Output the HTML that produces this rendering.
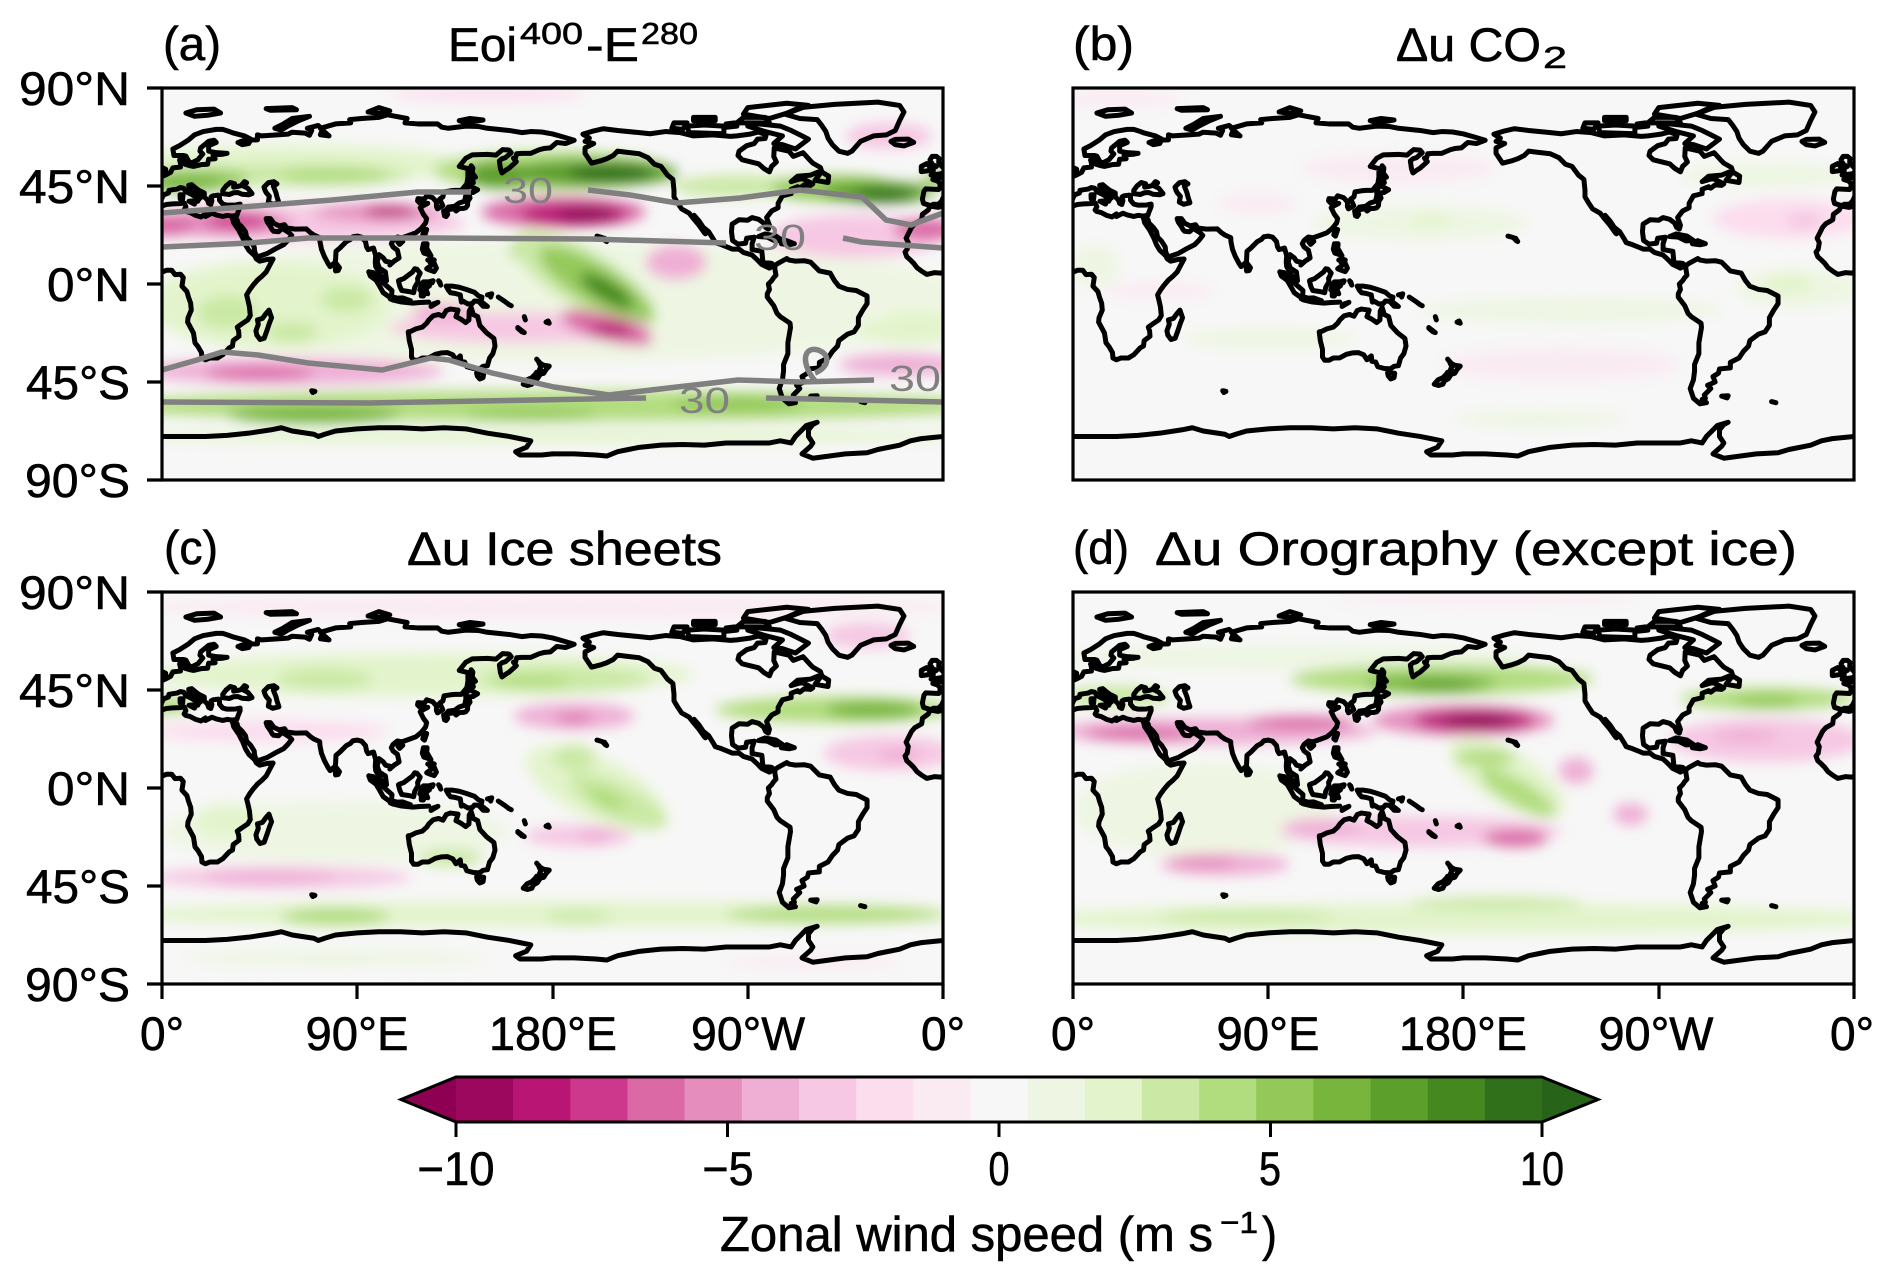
<!DOCTYPE html>
<html><head><meta charset="utf-8"><style>
html,body{margin:0;padding:0;background:#fff;}
svg{display:block;}
text{font-family:"Liberation Sans",Arial,sans-serif;fill:#000;}
.k text{stroke:#000;stroke-width:0.6px;}
</style></head><body>
<svg width="1892" height="1279" viewBox="0 0 1892 1279" xmlns="http://www.w3.org/2000/svg">
<defs>
<clipPath id="cp"><rect x="0" y="0" width="360" height="180"/></clipPath>
<filter id="bl" filterUnits="userSpaceOnUse" x="-60" y="-60" width="480" height="300"><feGaussianBlur stdDeviation="3"/></filter>
<g id="coast" transform="matrix(1,0,0,-1,0,90)" fill="none" stroke="#000" stroke-width="2.3" stroke-linejoin="round" stroke-linecap="round">
<polyline points="-165,60 -162,55.5 -158,56.5 -155,57.5 -152,59 -150,61 -146,60.5 -140,59.8 -136,58 -133,55 -130,54 -127,50 -124.5,48 -124,43 -124,40 -122.5,37.5 -120.5,34.5 -117,32.5 -115,30 -112.5,27 -110,23.5 -109.5,23 -111,25.5 -112.5,28.5 -114.7,31.5 -112.5,29 -110.5,26 -108,24 -105.5,20 -105,19 -102,18 -97,16 -94,16 -92,14.5 -88,13.3 -85.5,11 -83.6,9 -80,7.3 -78,8.5 -79,9.5 -83,10 -83.5,15 -88,15.8 -88,18.5 -87,21.5 -90.5,21 -91,18.7 -94.5,18.3 -97,20 -97.5,24 -97.2,27.5 -94,29.5 -90,29.3 -88,30.5 -85,29.7 -82.7,28 -81.8,26 -80.5,25.2 -80,27 -81.3,30.5 -79,33.5 -76,35 -76,37 -74,40.5 -70,41.5 -70,43.5 -67,44.7 -66,44 -64,45.5 -61,45.3 -60,46 -65,48.5 -70,47 -67,49.5 -61,50 -56,52 -56.5,53.5 -60,55.5 -61.5,57 -64.5,60.3 -69,58.6 -71,61 -77.8,62.5 -78,58.5 -76.8,56 -79,54 -80,51.5 -82.5,53 -85,55.2 -92.5,57 -94.5,59 -94,61 -90.5,63.5 -87,64.5 -85.5,66.5 -82,66.8 -81.5,68.5 -85,69.8 -89,68.8 -95,68 -98,67.8 -106,68.5 -115,68 -121,69.5 -128,70 -135,69 -141,69.6 -150,70.5 -156.5,71.3 -161,70.3 -166,68.8 -163,67 -165,65.5 -161,64.5 -165,62.5 -165,60"/>
<polyline points="-73,78 -66,81 -50,82.5 -30,83.5 -20,82 -18,79 -20,75 -22,70.5 -26,68.5 -32,68 -38,65.5 -42,61 -44,60 -48,61 -51,64 -53,67 -54,70 -56,73 -58,75.5 -66,76 -73,78"/>
<polyline points="-62,66.5 -68,62 -74,64 -78,64.5 -74,68 -82,70 -90,72.5 -85,73.5 -75,72.5 -70,70.5 -65,68 -62,66.5"/>
<polyline points="-80,76 -92,78 -90,81 -72,83 -62,82 -70,79 -80,76"/>
<polyline points="-117,69.5 -101,69 -101,72.5 -110,73 -118,72.5 -117,69.5"/>
<polyline points="-125,71.5 -120,71 -118,74 -124,74 -125,71.5"/>
<polyline points="-95,74 -80,74 -82,76.5 -92,76.5 -95,74"/>
<polyline points="-100,72 -95,72.5 -96,74 -100,73.5 -100,72"/>
<polyline points="-115,75 -105,75 -105,76.5 -115,76.5 -115,75"/>
<polyline points="-59,47.6 -53,46.6 -52.7,49.5 -56,51.5 -59,47.6"/>
<polyline points="-85,21.8 -82,23 -77,22 -74,20 -77.5,19.8 -81,21.5 -85,21.8"/>
<polyline points="-74.5,18.5 -72,19.9 -68.5,18.5 -71,18 -74.5,18.5"/>
<polyline points="-156,21 -155,19.5 -155.8,20 -157,21.3 -159.5,22"/>
<polyline points="-77.5,8.5 -76,9.5 -72,11.7 -71,11 -68,10.5 -64,10.7 -61,10 -57,6 -52,5 -50,1.5 -48,-1 -44,-2.5 -40,-3 -35,-5.5 -35,-9 -37,-12 -39,-15.5 -39,-19 -41,-22 -44,-23 -48,-26 -48.6,-28.5 -51,-31 -53,-34 -57,-36 -57,-38.5 -62,-39 -62.5,-41 -65,-42.5 -64,-45 -67.5,-46.5 -66,-48 -69,-51 -68.5,-52.5 -70,-53 -68,-54.5 -71,-55 -74,-52.5 -75.5,-48 -74,-44 -73.5,-40 -73.5,-37 -71.5,-32 -71.5,-27 -70.3,-20 -70.5,-18 -75,-15 -76.5,-13.5 -78,-10 -81,-6 -81,-4.5 -80,-2.5 -80.5,0 -79,1.5 -78,3 -77,4 -77.5,7 -77.5,8.5"/>
<polyline points="-61,-51.5 -58,-51.3 -58.5,-52.3 -61,-51.5"/>
<polyline points="-38,-54 -36,-54.5"/>
<polyline points="-5.6,36 -9,37 -9.5,39 -8.8,42.5 -8,43.7 -2,43.4 -1.5,44 -1.3,46 -2.5,47.3 -4.7,48 -1.5,48.7 1.5,50 4,51.3 5,53.3 8.5,53.7 8.5,55.5 8.1,57 10.5,57.7 10.5,55 12.5,54.4 14.5,54 18,54.8 21,55 21.5,57.3 24.5,57.5 23.5,59.3 28,59.6 30,60 25,60.3 21.5,61 21.5,63.5 25,65 24,66 21.5,65.5 17.8,62.5 17.5,61 18.8,59.7 16.5,57 14.5,56 12.8,55.5 11,58.7 10,59 5.5,59 5,62 8,63.5 12,66 15,68.5 19,70 25,71 28,71 31,70 33,69.3 38,68 41,66.5 40,64.5 37,64 35,65 38,66 44,66.2 44,68.5 46,68 53,68.5 58,68.8 60,69.7 66,69.3 68,68.3 69,70.5 67,71.5 72,72.8 74,71 73,68.5 77,68 73,71.5 80,73.5 87,74 86.5,75.5 92,76 100,76.5 104,77.7 113,76 112,74 118,73.5 127,73.5 129,72 132,71.5 140,72.5 146,72.3 150,71.5 155,71 160,70.5 166,69.5 170,70 175,69.8 180,68.9 185,67.5 190,66 186,64.5 182,65 179,62.5 176,62.2 174,61.7 170,60 166,60 163.5,59.8 163,58 162,57.8 163.3,56.2 161.8,54.8 160,53.2 158.5,52.3 156.7,51 156,53 155.5,56.5 156.7,57.5 158.3,58 161,60.3 160,61.5 157,61.7 154,59.2 150,59.5 143,59.3 140,57.7 137,54 141,53 141,49 140.5,46 138,43 135,43 133,42.8 130,42.3 129.5,40 128,39 129.4,36 127,34.5 126.5,35.5 126.5,37.7 124.8,39.6 122,40.5 121,39 118,39.2 117.8,38.2 119,37 122.5,37 120.5,36 119,35 120.5,32 122,30 121.5,28 119.5,25.5 117,23.5 113.5,22.2 110.5,21.2 108.5,21.6 106.5,20 105.7,18.5 106.5,17 108.5,15.5 109.3,12 107,10.5 105,8.7 105,10 103,10.5 102,12 100,13.5 99.2,10 100.3,7 101,6.8 103,5.5 103.5,1.5 101.5,2.7 100.3,5 98.5,8 98.3,10 98.5,13 97.5,16.5 95,15.8 94.3,17 93.8,19.5 92,21.5 90,22 88,21.7 86.9,20.5 85,19.5 82,16.5 80.2,15 80,11 79.8,10 77.5,8 76.5,9.5 74.8,12.7 73.5,16 72.8,19.5 72.7,21.3 70,22.5 68.5,23.5 66.5,25.3 61.5,25.2 57.5,25.7 56.5,27.2 54,26.7 51.5,27.9 50,30 48,30 48.5,28.5 50,26.3 50.7,25 51.5,24.2 53.7,24 56,26 56.4,24.9 58.5,23.6 59.8,22.3 58,20 56,18 52,16 48.5,14 45,12.8 43.5,12.6 42.7,15 42.5,17 40.8,19.7 39,21.5 38.5,24 37,26 35,28 34.6,29.5 34,27.9 32.6,29.9 32.3,31.2 34.5,31.5 35,33 36,35.5 36,36.7 34,36.3 32,36.2 30,36.2 28,36.7 26.5,38.5 26.5,40 26,40.8 23.5,40.5 22.6,40 23,38.2 22.5,36.5 21.5,37 21,38.5 19.5,40 19.5,41.8 17,43 15,44.5 13.7,45.6 12.3,45.3 12.5,44 14,42.5 16,41.5 18.5,40.2 17,39 16.5,38 15.7,38 16.5,39.5 15.5,40 13.5,41.2 11,42.4 10,44 8.5,44.3 7,43.6 5,43.3 3.2,43 3,41.8 0.8,41 0,39.5 -0.5,38.3 -2,36.7 -4.5,36.6 -5.6,36"/>
<polyline points="28,41.5 28,43 29.5,45 31.5,46.6 33.5,46 33,44.5 35,44.8 36.5,45.2 38,47 39,46.5 37.5,45 39.5,44 41.5,41.5 40,41 37,41.2 35,42 33,41.9 31,41.1 28,41.5"/>
<polyline points="47,44.5 49,46.5 51.5,47 53,46 51.3,45 52.5,42 53,40 53.9,37.3 51,36.6 49,37.6 49.5,40.3 48,42 47.5,43 47,44.5"/>
<polyline points="-5,50 1.5,51 1.7,52.7 0,53.5 -1.5,55 -2,56 -1.8,57.6 -3,58.6 -5,58.6 -6,57 -5.5,56 -4.8,54.8 -3,54 -4.5,53.3 -4.5,51.7 -5.5,50 -5,50"/>
<polyline points="-6,52 -6.2,54 -7.5,55.3 -10,54 -10,51.6 -7,52 -6,52"/>
<polyline points="-22,64 -24,65.5 -22,66.4 -16,66.5 -13.5,65 -18,63.4 -22,64"/>
<polyline points="12.4,38 15.6,38.2 15,36.7 12.4,38"/>
<polyline points="8.3,41 9.7,41 9.5,39 8.4,39 8.3,41"/>
<polyline points="52,71.5 56,73.5 60,76 68,77 63,75 58,72.5 55,70.7 52,71.5"/>
<polyline points="11,78.5 16,80 24,80.3 27,78.5 21,77.5 15,77 11,78.5"/>
<polyline points="95,79 100,81 105,79.5 100,78.3 95,79"/>
<polyline points="137,75 142,76 148,75.3 140,74 137,75"/>
<polyline points="48,80.5 60,81 62,80 50,79.8 48,80.5"/>
<polyline points="130.9,34 132,35.3 135,35.7 136,36.5 137,37.2 139.5,38 140,40.5 141.4,41.4 142,39.5 141,38 140.8,36 140,35 138.8,34.7 137,34.6 135.5,33.5 135,34.6 133,34.3 131,33.9 130.9,34"/>
<polyline points="129.8,33.5 131,33.9 131.7,32 131,31 130.2,31.3 129.8,33.5"/>
<polyline points="140,41.5 140,43 141.6,45.4 143,44.5 145.5,43.3 143.3,42 141,41.8 140,41.5"/>
<polyline points="142,46 143.5,46.5 143,49 144.5,49 143,51 143.3,53.3 142.5,54.3 142,51.5 142,46"/>
<polyline points="120.2,22.6 121,25 122,25 121,22 120.2,22.6"/>
<polyline points="108.7,19.2 110.5,20.1 111,19.6 109.5,18.2 108.7,19.2"/>
<polyline points="120,16 120.5,18.5 122.2,18.5 122,16.5 124,13 122,13.8 120.7,14.2 120,16"/>
<polyline points="122,7 124,8.5 125.5,9.5 126.5,7.3 125.5,5.7 124,6.2 122,7"/>
<polyline points="122.5,11 124,11.5 125.5,11 123.5,10"/>
<polyline points="109,1.5 109.6,-1 110.5,-3 114,-3.5 116,-4 116.5,-1.5 118,1 117.8,2.5 119,5 117.5,6.8 116.5,7 115.5,5.5 113.5,4 111.5,2.5 109.5,1.8 109,1.5"/>
<polyline points="95.3,5.6 97.5,5.2 100,2.2 103.7,-1 106,-3 105.8,-5.8 104.5,-5.8 102,-4 100.3,-1 98.7,1.7 96,3.7 95.3,5.6"/>
<polyline points="105.2,-6.8 106,-5.9 108.5,-6.5 111,-6.4 114.5,-7.7 114.5,-8.7 110,-8.2 106.5,-7.4 105.2,-6.8"/>
<polyline points="115.5,-8.8 119,-8.5 123,-8.3"/>
<polyline points="124,-10.3 127.2,-8.4 125,-9.2 124,-10.3"/>
<polyline points="119.5,-5.5 119.5,-3 118.8,-2.7 119.8,0 120.5,1 123,1 125,1.5 124.5,0.5 121,0.5 120.5,-1 123.3,-0.8 121.5,-2 122.5,-4.5 121,-4 120.5,-5.5 119.5,-5.5"/>
<polyline points="127.5,1.5 128.5,-0.5 128,1"/>
<polyline points="131,-1 134,-1 137,-1.5 140,-2.4 144,-3.8 146,-5.5 147.5,-6 147,-8 150,-10.3 148,-10.2 146,-8 144,-7.8 143,-9 141,-9.2 139,-8 138,-8.3 137.5,-5 135,-4.3 133,-4 132,-2.8 131,-1"/>
<polyline points="150,-5 152,-4.5 151.5,-6"/>
<polyline points="155,-6 158,-8 160,-9.5 161,-10"/>
<polyline points="167,-15 167.5,-16.5"/>
<polyline points="164,-20 167,-22.3 166,-22 164,-20.3"/>
<polyline points="177,-17.5 178.5,-18 178,-17 177,-17.5"/>
<polyline points="113.5,-22 114,-26 115,-30 115,-33.5 116,-35 118,-35 120,-34 123,-33.9 126,-32.3 129,-31.6 131.5,-31.5 134,-32.5 135.5,-34.8 137.5,-33 137.8,-35.5 139.5,-35.8 140.5,-38 143.5,-38.8 146.3,-39 148,-37.8 150,-37.5 151,-34 152.5,-32 153.5,-28.5 153,-25 151,-23.5 149.5,-22.3 146.5,-19 145.5,-15 143.5,-14 142.5,-10.8 141.6,-12.5 141.5,-16.5 140,-17.7 137.5,-16 135.5,-15 136.5,-12 133,-11.5 131,-12.2 129.5,-14.8 127.5,-14 125,-14.6 123,-16.5 122,-18 120,-19.8 117,-20.6 114.5,-21.8 113.5,-22"/>
<polyline points="145,-40.8 148.3,-41 148,-43 146.5,-43.6 145.3,-42.2 145,-40.8"/>
<polyline points="172.7,-34.5 174.5,-36.5 175.9,-37.3 178.5,-37.7 177,-39.3 176,-41 174.7,-41.3 175.2,-40 174,-39.3 174.6,-38 173.5,-35.5 172.7,-34.5"/>
<polyline points="172.7,-40.5 174.3,-41.5 173,-43.5 171.2,-44.5 170.5,-46 168.5,-46.6 166.5,-46 168.3,-44 170.5,-43 172,-41.5 172.7,-40.5"/>
<polyline points="49.3,-12 50.5,-15.5 49.5,-18 48.5,-21 47.1,-24.9 45.2,-25.5 43.7,-23.5 43.3,-21.5 44.4,-18.5 44,-16.5 46.3,-15.8 47.9,-13.6 49.3,-12"/>
<polyline points="80,9.8 81.8,7.5 81.2,6.2 80,6 79.8,8 80,9.8"/>
<polyline points="69,-49 70.5,-49.3 69.5,-49.8 69,-49"/>
<polyline points="32.6,29.9 32.3,31.2 30,31.5 28,31 25,31.7 23,32.5 20,31 20,32.2 18,30.8 15.5,31.5 13,32.8 11,33.3 10.2,34 11,35.5 10.2,37.2 8,36.9 5,36.8 2,36.5 -1,35.5 -2.2,35.2 -5.9,35.8 -6.8,34 -9.5,32 -9.8,29.5 -13,27.7 -14.5,26 -17,21 -16,19 -16.5,16 -17.5,14.7 -16.7,12.5 -15,11 -13.5,9.5 -12,7.5 -10,6 -7.5,4.4 -4,5.2 -1,5 2,6.3 4.5,6.3 6,4.3 8.5,4.5 9.8,3 9.5,1 9.2,-1 11.5,-3.5 12.2,-6 13.2,-8.8 13.5,-12 12,-15.5 11.8,-17.5 14.5,-22.5 15.2,-27 16.5,-28.6 18.2,-31.5 18.4,-34 20,-34.8 22,-34 25.5,-34 28,-32.5 31,-29.3 32.5,-28.5 32.8,-26 35.5,-24 35.3,-21.5 34.7,-19.8 36.5,-18.5 39.5,-16.5 40.7,-14.5 40.3,-10.5 39.5,-7 39,-5 40.5,-2.5 42,-0.5 44,1.8 46,3.5 48,5.5 49.6,8.5 51.2,11.5 48.5,11.3 45,10.5 43.5,11.5 42.7,13 40,15.5 38.5,18 37.3,21 36,23.5 35.5,24.5 34,26.7 33,28.2 32.6,29.9"/>
<polyline points="-180,-78 -170,-78 -160,-78.5 -155,-79 -150,-77 -145,-76 -140,-75 -130,-74 -120,-73.7 -110,-74 -100,-73 -90,-73 -80,-73 -75,-72 -70,-73 -68,-70 -66,-68 -63,-65 -58,-63.5 -60,-64.5 -62,-67 -62,-70 -60,-73 -61,-74.5 -65,-78 -60,-80 -45,-78 -35,-77.5 -30,-76 -20,-74 -15,-72 -10,-71 0,-70 10,-70 20,-70 30,-69.5 40,-68.5 50,-67 55,-66 60,-67.5 70,-69 72,-70 75,-69 80,-67.5 90,-66.5 100,-66 110,-66 120,-66.5 130,-66 140,-66.5 150,-68.5 160,-70 165,-71 170,-72 168,-75 163,-77 165,-78.5 175,-78.5 180,-78"/>
</g>
</defs>
<rect x="0" y="0" width="1892" height="1279" fill="#fff"/>

<!-- PANEL A -->
<g transform="translate(162,88) scale(2.16944,2.17778)">
<g clip-path="url(#cp)">
<rect x="0" y="0" width="360" height="180" fill="#f7f7f7"/>
<g filter="url(#bl)">
<ellipse cx="180" cy="98" rx="200" ry="28" fill="#eef6e3"/>
<ellipse cx="60" cy="35" rx="80" ry="9" fill="#e3f4cc"/>
<ellipse cx="60" cy="40" rx="55" ry="5" fill="#cbe9a5"/>
<ellipse cx="80" cy="40" rx="25" ry="4" fill="#b2dd7f"/>
<ellipse cx="15" cy="42" rx="25" ry="5" fill="#94c95a"/>
<ellipse cx="375" cy="42" rx="25" ry="5" fill="#94c95a"/>
<ellipse cx="10" cy="44" rx="18" ry="3.5" fill="#77b53c"/>
<ellipse cx="180" cy="38" rx="55" ry="9" fill="#b2dd7f"/>
<ellipse cx="155" cy="40" rx="15" ry="6" fill="#5d9f2b"/>
<ellipse cx="198" cy="39" rx="40" ry="6" fill="#5d9f2b"/>
<ellipse cx="207" cy="39" rx="20" ry="4" fill="#31701b"/>
<ellipse cx="265" cy="45" rx="30" ry="5" fill="#cbe9a5"/>
<ellipse cx="310" cy="46" rx="30" ry="6" fill="#94c95a"/>
<ellipse cx="330" cy="48" rx="25" ry="5" fill="#5d9f2b"/>
<ellipse cx="333" cy="49" rx="14" ry="3" fill="#31701b"/>
<ellipse cx="60" cy="62" rx="80" ry="8" fill="#f6c8e3"/>
<ellipse cx="30" cy="62" rx="30" ry="6" fill="#e58ebe"/>
<ellipse cx="35" cy="61" rx="15" ry="3.5" fill="#cd388c"/>
<ellipse cx="3" cy="63" rx="12" ry="5" fill="#da69a6"/>
<ellipse cx="100" cy="57" rx="30" ry="4" fill="#e58ebe"/>
<ellipse cx="105" cy="57" rx="12" ry="2.5" fill="#b91574"/>
<ellipse cx="185" cy="57" rx="38" ry="7" fill="#da69a6"/>
<ellipse cx="190" cy="58" rx="25" ry="5" fill="#b91574"/>
<ellipse cx="196" cy="58" rx="14" ry="3" fill="#8e0152"/>
<ellipse cx="320" cy="68" rx="40" ry="10" fill="#f6c8e3"/>
<ellipse cx="352" cy="65" rx="15" ry="5" fill="#da69a6"/>
<ellipse cx="237" cy="80" rx="14" ry="8" fill="#efafd5"/>
<ellipse cx="50" cy="100" rx="55" ry="20" fill="#e3f4cc"/>
<ellipse cx="30" cy="103" rx="14" ry="8" fill="#cbe9a5"/>
<ellipse cx="85" cy="97" rx="12" ry="6" fill="#cbe9a5"/>
<ellipse cx="60" cy="112" rx="12" ry="5" fill="#cbe9a5"/>
<ellipse cx="345" cy="110" rx="25" ry="8" fill="#e3f4cc"/>
<ellipse cx="300" cy="95" rx="45" ry="15" fill="#eef6e3"/>
<ellipse cx="178" cy="75" rx="18" ry="6" fill="#b2dd7f"/>
<ellipse cx="195" cy="88" rx="38" ry="13" fill="#cbe9a5" transform="rotate(31 195 88)"/>
<ellipse cx="200" cy="90" rx="30" ry="9" fill="#94c95a" transform="rotate(31 200 90)"/>
<ellipse cx="205" cy="93" rx="14" ry="4.5" fill="#45881f" transform="rotate(31 205 93)"/>
<ellipse cx="165" cy="110" rx="60" ry="7" fill="#f6c8e3"/>
<ellipse cx="130" cy="103" rx="15" ry="4" fill="#efafd5"/>
<ellipse cx="205" cy="110" rx="22" ry="6" fill="#da69a6" transform="rotate(15 205 110)"/>
<ellipse cx="207" cy="111" rx="10" ry="3" fill="#b91574"/>
<ellipse cx="60" cy="130" rx="70" ry="6" fill="#efafd5"/>
<ellipse cx="45" cy="131" rx="25" ry="3" fill="#da69a6"/>
<ellipse cx="340" cy="127" rx="28" ry="5" fill="#efafd5"/>
<ellipse cx="180" cy="146" rx="210" ry="7" fill="#b2dd7f"/>
<ellipse cx="70" cy="150" rx="40" ry="4" fill="#77b53c"/>
<ellipse cx="265" cy="145" rx="30" ry="4" fill="#94c95a"/>
<ellipse cx="170" cy="150" rx="30" ry="3" fill="#94c95a"/>
<ellipse cx="180" cy="160" rx="210" ry="3" fill="#e3f4cc"/>
<ellipse cx="335" cy="22" rx="20" ry="6" fill="#f6c8e3"/>
<ellipse cx="150" cy="3" rx="45" ry="3" fill="#fcddee"/>
</g>
<use href="#coast"/><use href="#coast" x="360"/>
</g>
</g>
<!-- gray contours panel a -->
<g fill="none" stroke="#808080" stroke-width="5.5" stroke-linejoin="round" stroke-linecap="butt">
<polyline points="162,213 230,208 332,200 418,192 471,192"/>
<polyline points="588,190 630,195 677,203 740,198 800,190 862,197 886,220 911,225 943,213"/>
<polyline points="162,247 250,243 308,238 431,238 591,239 726,243"/>
<polyline points="843,238 862,242 943,248"/>
<polyline points="162,370 197,360 222,352 258,355 308,363 382,370 431,358 449,360 492,373 554,387 609,395 677,387 738,380 800,382 874,380"/>
<path d="M815,381 C800,362 804,346 818,350 C832,355 828,368 815,373"/>
<polyline points="162,402 369,403 646,398"/>
<polyline points="766,398 943,402"/>
</g>
<g font-size="36">
<text x="503" y="203" textLength="50" lengthAdjust="spacingAndGlyphs" style="fill:#808080">30</text>
<text x="754" y="250" textLength="52" lengthAdjust="spacingAndGlyphs" style="fill:#808080">30</text>
<text x="889" y="391" textLength="52" lengthAdjust="spacingAndGlyphs" style="fill:#808080">30</text>
<text x="679" y="413" textLength="51" lengthAdjust="spacingAndGlyphs" style="fill:#808080">30</text>
</g>

<!-- PANEL B -->
<g transform="translate(1073,88) scale(2.16944,2.17778)">
<g clip-path="url(#cp)">
<rect x="0" y="0" width="360" height="180" fill="#f7f7f7"/>
<g filter="url(#bl)">
<ellipse cx="20" cy="5" rx="30" ry="4" fill="#faebf3"/>
<ellipse cx="150" cy="37" rx="45" ry="7" fill="#faebf3"/>
<ellipse cx="85" cy="53" rx="18" ry="5" fill="#faebf3"/>
<ellipse cx="160" cy="62" rx="50" ry="8" fill="#eef6e3"/>
<ellipse cx="165" cy="61" rx="10" ry="3" fill="#e3f4cc"/>
<ellipse cx="320" cy="40" rx="40" ry="6" fill="#eef6e3"/>
<ellipse cx="330" cy="60" rx="35" ry="9" fill="#fcddee"/>
<ellipse cx="337" cy="61" rx="8" ry="4" fill="#f6c8e3"/>
<ellipse cx="335" cy="92" rx="30" ry="9" fill="#eef6e3"/>
<ellipse cx="330" cy="90" rx="12" ry="5" fill="#e3f4cc"/>
<ellipse cx="230" cy="102" rx="70" ry="6" fill="#eef6e3"/>
<ellipse cx="225" cy="127" rx="55" ry="8" fill="#faebf3"/>
<ellipse cx="40" cy="93" rx="25" ry="4" fill="#faebf3"/>
<ellipse cx="10" cy="82" rx="12" ry="10" fill="#eef6e3"/>
<ellipse cx="215" cy="152" rx="40" ry="4" fill="#eef6e3"/>
<ellipse cx="90" cy="115" rx="40" ry="5" fill="#eef6e3"/>
</g>
<use href="#coast"/><use href="#coast" x="360"/>
</g>
</g>

<!-- PANEL C -->
<g transform="translate(162,592) scale(2.16944,2.17778)">
<g clip-path="url(#cp)">
<rect x="0" y="0" width="360" height="180" fill="#f7f7f7"/>
<g filter="url(#bl)">
<ellipse cx="180" cy="7" rx="190" ry="6" fill="#faebf3"/>
<ellipse cx="325" cy="20" rx="20" ry="6" fill="#f6c8e3"/>
<ellipse cx="120" cy="38" rx="125" ry="10" fill="#e3f4cc"/>
<ellipse cx="75" cy="40" rx="22" ry="5" fill="#cbe9a5"/>
<ellipse cx="185" cy="40" rx="40" ry="6" fill="#cbe9a5"/>
<ellipse cx="170" cy="41" rx="18" ry="3" fill="#b2dd7f"/>
<ellipse cx="310" cy="54" rx="55" ry="6" fill="#b2dd7f"/>
<ellipse cx="328" cy="54" rx="22" ry="4" fill="#77b53c"/>
<ellipse cx="2" cy="52" rx="12" ry="4" fill="#b2dd7f"/>
<ellipse cx="190" cy="57" rx="28" ry="6" fill="#efafd5"/>
<ellipse cx="190" cy="58" rx="9" ry="2" fill="#da69a6"/>
<ellipse cx="50" cy="64" rx="55" ry="5" fill="#fcddee"/>
<ellipse cx="335" cy="74" rx="30" ry="8" fill="#f6c8e3"/>
<ellipse cx="340" cy="75" rx="10" ry="3" fill="#efafd5"/>
<ellipse cx="80" cy="110" rx="80" ry="14" fill="#eef6e3"/>
<ellipse cx="30" cy="105" rx="15" ry="8" fill="#e3f4cc"/>
<ellipse cx="200" cy="90" rx="35" ry="14" fill="#e3f4cc" transform="rotate(25 200 90)"/>
<ellipse cx="190" cy="76" rx="10" ry="6" fill="#cbe9a5"/>
<ellipse cx="210" cy="96" rx="25" ry="8" fill="#cbe9a5" transform="rotate(25 210 96)"/>
<ellipse cx="205" cy="95" rx="10" ry="4" fill="#b2dd7f" transform="rotate(25 205 95)"/>
<ellipse cx="192" cy="112" rx="25" ry="5" fill="#f6c8e3"/>
<ellipse cx="200" cy="112" rx="8" ry="3" fill="#efafd5"/>
<ellipse cx="133" cy="122" rx="15" ry="4" fill="#cbe9a5"/>
<ellipse cx="55" cy="131" rx="60" ry="5" fill="#f6c8e3"/>
<ellipse cx="50" cy="131" rx="30" ry="3" fill="#efafd5"/>
<ellipse cx="180" cy="148" rx="200" ry="6" fill="#e3f4cc"/>
<ellipse cx="80" cy="149" rx="25" ry="4" fill="#b2dd7f"/>
<ellipse cx="192" cy="149" rx="15" ry="3" fill="#cbe9a5"/>
<ellipse cx="310" cy="148" rx="50" ry="4" fill="#b2dd7f"/>
<ellipse cx="80" cy="168" rx="70" ry="4" fill="#eef6e3"/>
<ellipse cx="300" cy="170" rx="40" ry="3" fill="#faebf3"/>
</g>
<use href="#coast"/><use href="#coast" x="360"/>
</g>
</g>

<!-- PANEL D -->
<g transform="translate(1073,592) scale(2.16944,2.17778)">
<g clip-path="url(#cp)">
<rect x="0" y="0" width="360" height="180" fill="#f7f7f7"/>
<g filter="url(#bl)">
<ellipse cx="190" cy="3" rx="70" ry="3" fill="#faebf3"/>
<ellipse cx="100" cy="30" rx="110" ry="6" fill="#eef6e3"/>
<ellipse cx="170" cy="40" rx="70" ry="7" fill="#b2dd7f"/>
<ellipse cx="165" cy="42" rx="30" ry="4" fill="#77b53c"/>
<ellipse cx="170" cy="43" rx="15" ry="2.5" fill="#5d9f2b"/>
<ellipse cx="320" cy="49" rx="40" ry="5" fill="#b2dd7f"/>
<ellipse cx="320" cy="50" rx="15" ry="3" fill="#94c95a"/>
<ellipse cx="20" cy="48" rx="25" ry="5" fill="#cbe9a5"/>
<ellipse cx="65" cy="64" rx="75" ry="6" fill="#efafd5"/>
<ellipse cx="30" cy="65" rx="25" ry="3" fill="#da69a6"/>
<ellipse cx="105" cy="60" rx="25" ry="3" fill="#da69a6"/>
<ellipse cx="180" cy="59" rx="42" ry="7" fill="#e58ebe"/>
<ellipse cx="185" cy="59" rx="28" ry="5" fill="#b91574"/>
<ellipse cx="187" cy="59" rx="16" ry="3" fill="#8e0152"/>
<ellipse cx="320" cy="68" rx="45" ry="10" fill="#f6c8e3"/>
<ellipse cx="310" cy="66" rx="15" ry="3" fill="#efafd5"/>
<ellipse cx="232" cy="82" rx="8" ry="6" fill="#efafd5"/>
<ellipse cx="60" cy="100" rx="60" ry="22" fill="#eef6e3"/>
<ellipse cx="200" cy="85" rx="30" ry="12" fill="#e3f4cc" transform="rotate(30 200 85)"/>
<ellipse cx="190" cy="76" rx="14" ry="4" fill="#b2dd7f"/>
<ellipse cx="205" cy="92" rx="20" ry="6" fill="#b2dd7f" transform="rotate(30 205 92)"/>
<ellipse cx="160" cy="110" rx="65" ry="7" fill="#f6c8e3"/>
<ellipse cx="204" cy="113" rx="15" ry="4" fill="#da69a6"/>
<ellipse cx="115" cy="108" rx="18" ry="4" fill="#efafd5"/>
<ellipse cx="257" cy="102" rx="8" ry="5" fill="#efafd5"/>
<ellipse cx="70" cy="125" rx="30" ry="5" fill="#efafd5"/>
<ellipse cx="60" cy="124" rx="15" ry="3" fill="#e58ebe"/>
<ellipse cx="180" cy="150" rx="200" ry="7" fill="#e3f4cc"/>
<ellipse cx="80" cy="149" rx="40" ry="3" fill="#cbe9a5"/>
<ellipse cx="195" cy="143" rx="40" ry="3" fill="#cbe9a5"/>
</g>
<use href="#coast"/><use href="#coast" x="360"/>
</g>
</g>

<!-- frames and ticks -->
<g fill="none" stroke="#000" stroke-width="3.2">
<rect x="162" y="88" width="781" height="392"/>
<rect x="1073" y="88" width="781" height="392"/>
<rect x="162" y="592" width="781" height="392"/>
<rect x="1073" y="592" width="781" height="392"/>
<path d="M147,88H162M147,186H162M147,284H162M147,382H162M147,480H162"/>
<path d="M147,592H162M147,690H162M147,788H162M147,886H162M147,984H162"/>
<path d="M162,984V999M357,984V999M553,984V999M748,984V999M943,984V999"/>
<path d="M1073,984V999M1268,984V999M1463,984V999M1659,984V999M1854,984V999"/>
</g>

<g class="k">
<!-- y labels -->
<g font-size="47" text-anchor="end">
<text x="130" y="105" textLength="111" lengthAdjust="spacingAndGlyphs">90°N</text>
<text x="130" y="203" textLength="111" lengthAdjust="spacingAndGlyphs">45°N</text>
<text x="130" y="301" textLength="83" lengthAdjust="spacingAndGlyphs">0°N</text>
<text x="130" y="399" textLength="104" lengthAdjust="spacingAndGlyphs">45°S</text>
<text x="130" y="497" textLength="105" lengthAdjust="spacingAndGlyphs">90°S</text>
<text x="130" y="609" textLength="111" lengthAdjust="spacingAndGlyphs">90°N</text>
<text x="130" y="707" textLength="111" lengthAdjust="spacingAndGlyphs">45°N</text>
<text x="130" y="805" textLength="83" lengthAdjust="spacingAndGlyphs">0°N</text>
<text x="130" y="903" textLength="104" lengthAdjust="spacingAndGlyphs">45°S</text>
<text x="130" y="1001" textLength="105" lengthAdjust="spacingAndGlyphs">90°S</text>
</g>
<!-- x labels -->
<g font-size="47" text-anchor="middle">
<text x="162" y="1050" textLength="44" lengthAdjust="spacingAndGlyphs">0°</text>
<text x="357" y="1050" textLength="103" lengthAdjust="spacingAndGlyphs">90°E</text>
<text x="553" y="1050" textLength="128" lengthAdjust="spacingAndGlyphs">180°E</text>
<text x="748" y="1050" textLength="114" lengthAdjust="spacingAndGlyphs">90°W</text>
<text x="943" y="1050" textLength="44" lengthAdjust="spacingAndGlyphs">0°</text>
<text x="1073" y="1050" textLength="44" lengthAdjust="spacingAndGlyphs">0°</text>
<text x="1268" y="1050" textLength="103" lengthAdjust="spacingAndGlyphs">90°E</text>
<text x="1463" y="1050" textLength="128" lengthAdjust="spacingAndGlyphs">180°E</text>
<text x="1656" y="1050" textLength="115" lengthAdjust="spacingAndGlyphs">90°W</text>
<text x="1852" y="1050" textLength="44" lengthAdjust="spacingAndGlyphs">0°</text>
</g>

<!-- titles -->
<g font-size="47">
<text x="163" y="60" textLength="58" lengthAdjust="spacingAndGlyphs">(a)</text>
<text x="448" y="61" textLength="69" lengthAdjust="spacingAndGlyphs">Eoi</text>
<text x="520" y="44" font-size="31" textLength="63" lengthAdjust="spacingAndGlyphs">400</text>
<text x="586" y="61" textLength="53" lengthAdjust="spacingAndGlyphs">-E</text>
<text x="641" y="44" font-size="31" textLength="57" lengthAdjust="spacingAndGlyphs">280</text>
<text x="1073" y="60" textLength="61" lengthAdjust="spacingAndGlyphs">(b)</text>
<text x="1396" y="61" textLength="145" lengthAdjust="spacingAndGlyphs">Δu CO</text>
<text x="1543" y="68" font-size="31" textLength="24" lengthAdjust="spacingAndGlyphs">2</text>
<text x="164" y="564" textLength="54" lengthAdjust="spacingAndGlyphs">(c)</text>
<text x="407" y="565" textLength="315" lengthAdjust="spacingAndGlyphs">Δu Ice sheets</text>
<text x="1073" y="564" textLength="56" lengthAdjust="spacingAndGlyphs">(d)</text>
<text x="1155" y="565" textLength="642" lengthAdjust="spacingAndGlyphs">Δu Orography (except ice)</text>
</g>
</g>

<!-- colorbar -->
<g>
<polygon points="456,1077 401,1099.5 456,1122" fill="#8e0152"/>
<polygon points="1542,1077 1598,1099.5 1542,1122" fill="#276419"/>
<rect x="456" y="1077" width="58" height="45" fill="#9c085d"/>
<rect x="513.2" y="1077" width="58" height="45" fill="#b91574"/>
<rect x="570.3" y="1077" width="58" height="45" fill="#cd388c"/>
<rect x="627.5" y="1077" width="58" height="45" fill="#da69a6"/>
<rect x="684.6" y="1077" width="58" height="45" fill="#e58ebe"/>
<rect x="741.8" y="1077" width="58" height="45" fill="#efafd5"/>
<rect x="799" y="1077" width="58" height="45" fill="#f6c8e3"/>
<rect x="856.1" y="1077" width="58" height="45" fill="#fcddee"/>
<rect x="913.3" y="1077" width="58" height="45" fill="#faebf3"/>
<rect x="970.4" y="1077" width="58" height="45" fill="#f7f7f7"/>
<rect x="1027.6" y="1077" width="58" height="45" fill="#eef6e3"/>
<rect x="1084.8" y="1077" width="58" height="45" fill="#e3f4cc"/>
<rect x="1141.9" y="1077" width="58" height="45" fill="#cbe9a5"/>
<rect x="1199.1" y="1077" width="58" height="45" fill="#b2dd7f"/>
<rect x="1256.2" y="1077" width="58" height="45" fill="#94c95a"/>
<rect x="1313.4" y="1077" width="58" height="45" fill="#77b53c"/>
<rect x="1370.6" y="1077" width="58" height="45" fill="#5d9f2b"/>
<rect x="1427.7" y="1077" width="58" height="45" fill="#45881f"/>
<rect x="1484.9" y="1077" width="57.1" height="45" fill="#31701b"/>
<polygon points="456,1077 1542,1077 1598,1099.5 1542,1122 456,1122 401,1099.5" fill="none" stroke="#000" stroke-width="3" stroke-linejoin="miter"/>
<path d="M456,1122V1137M727.5,1122V1137M999,1122V1137M1270.5,1122V1137M1542,1122V1137" stroke="#000" stroke-width="3"/>
</g>
<g class="k">
<g font-size="47" text-anchor="middle">
<text x="456" y="1185" textLength="77" lengthAdjust="spacingAndGlyphs">−10</text>
<text x="728" y="1185" textLength="51" lengthAdjust="spacingAndGlyphs">−5</text>
<text x="999" y="1185" textLength="21" lengthAdjust="spacingAndGlyphs">0</text>
<text x="1270" y="1185" textLength="22" lengthAdjust="spacingAndGlyphs">5</text>
<text x="1542" y="1185" textLength="44" lengthAdjust="spacingAndGlyphs">10</text>
</g>
<g font-size="49">
<text x="720" y="1251" textLength="493" lengthAdjust="spacingAndGlyphs">Zonal wind speed (m s</text>
<text x="1220" y="1233" font-size="31" textLength="38" lengthAdjust="spacingAndGlyphs">−1</text>
<text x="1262" y="1251" textLength="15" lengthAdjust="spacingAndGlyphs">)</text>
</g>
</g>
</svg>
</body></html>
